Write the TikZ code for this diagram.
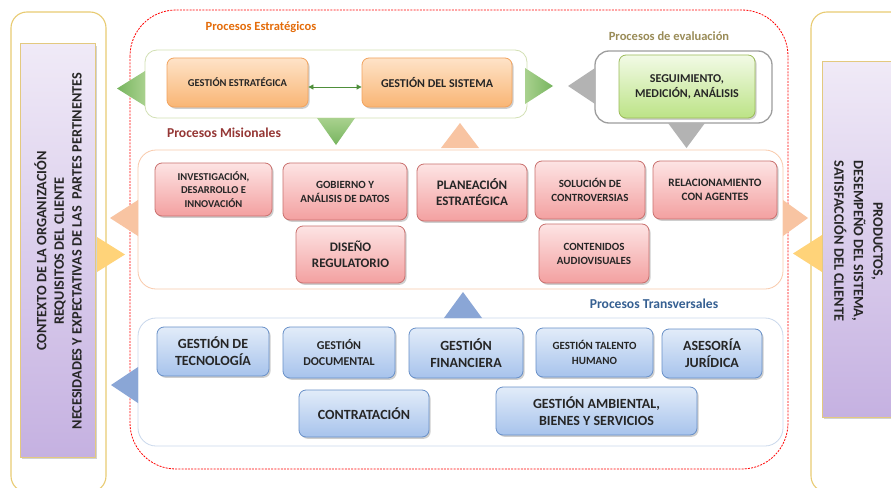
\documentclass[tikz,border=0pt]{standalone}
\usepackage{fontspec}
\setmainfont{Carlito}
\usetikzlibrary{shadows,arrows.meta}
\definecolor{txt}{HTML}{262626}
\definecolor{orgtop}{HTML}{FEE3C8}
\definecolor{orgbot}{HTML}{F9B574}
\definecolor{orgdraw}{HTML}{F2A35E}
\definecolor{grtop}{HTML}{F2FAE6}
\definecolor{grbot}{HTML}{BCE386}
\definecolor{grdraw}{HTML}{9BBB59}
\definecolor{mistop}{HTML}{FDE4E4}
\definecolor{misbot}{HTML}{F3A0A0}
\definecolor{misdraw}{HTML}{C9706E}
\definecolor{blutop}{HTML}{E2ECF9}
\definecolor{blubot}{HTML}{A7C3EC}
\definecolor{bludraw}{HTML}{6890C8}
\definecolor{ptop}{HTML}{F0EAF7}
\definecolor{pbot}{HTML}{C5B1E1}
\definecolor{pdraw}{HTML}{E3C97F}
\definecolor{outdraw}{HTML}{E8CB72}
\definecolor{lblorange}{HTML}{E46C0A}
\definecolor{lblolive}{HTML}{9A8C58}
\definecolor{lblred}{HTML}{953735}
\definecolor{lblblue}{HTML}{366092}
\definecolor{trigreenA}{HTML}{77B55F}
\definecolor{trigreenB}{HTML}{A9D18E}
\definecolor{tripeach}{HTML}{F8C4A2}
\definecolor{trigray}{HTML}{B3B3B3}
\definecolor{triyellow}{HTML}{FFD379}
\definecolor{triblue}{HTML}{8AA6D6}
\definecolor{arrgreen}{HTML}{4E8F3A}
\newcommand\fsz[2]{\fontsize{#1}{#2}\selectfont}
\begin{document}
\begin{tikzpicture}[x=1pt,y=-1pt,
  every node/.style={font=\bfseries, text=txt},
  boxshadow/.style={drop shadow={shadow xshift=1.6pt, shadow yshift=-1.8pt, opacity=0.35, fill=black!55}},
  pbox/.style={rounded corners=7pt, align=center, inner sep=2pt, line width=0.8pt, boxshadow},
  orgbox/.style={pbox, draw=orgdraw, top color=orgtop, bottom color=orgbot},
  grbox/.style={pbox, draw=grdraw, top color=grtop, bottom color=grbot},
  misbox/.style={pbox, draw=misdraw, top color=mistop, bottom color=misbot},
  blubox/.style={pbox, draw=bludraw, top color=blutop, bottom color=blubot},
  purplebox/.style={draw=pdraw, line width=1pt, top color=ptop, bottom color=pbot,
     drop shadow={shadow xshift=2pt, shadow yshift=-2pt, opacity=0.35, fill=black!50}},
  outerbox/.style={draw=outdraw, line width=1.1pt, rounded corners=16pt, fill=white},
  container/.style={rounded corners=16pt, fill=white, line width=0.8pt},
  lbl/.style={font=\bfseries\fsz{12.5}{15}},
  dblarrow/.style={draw=arrgreen, line width=0.8pt, {Triangle[length=5pt,width=5pt]}-{Triangle[length=5pt,width=5pt]}}
]
\useasboundingbox (0,0) rectangle (891,487);
\begin{scope}
\clip (0,0) rectangle (891,487);
\fill[white] (0,0) rectangle (891,487);

% outer side boxes
\node[outerbox, minimum width=95, minimum height=480] (leftout) at (58.5,252) {};
\node[outerbox, minimum width=100, minimum height=480] (rightout) at (861,252) {};
\node[purplebox, minimum width=75, minimum height=413] (leftin) at (57.5,250.5) {};
\node[purplebox, minimum width=82, minimum height=355] (rightin) at (863,239.5) {};
\node[rotate=90, align=center, font=\bfseries\fsz{14.3}{17.6}] (lefttxt) at (58,251)
  {CONTEXTO DE LA ORGANIZACIÓN\\REQUISITOS DEL CLIENTE\\NECESIDADES Y EXPECTATIVAS DE LAS\ \ PARTES PERTINENTES};
\node[rotate=-90, align=center, font=\bfseries\fsz{14.3}{19.5}] (righttxt) at (858.5,241)
  {PRODUCTOS,\\DESEMPEÑO DEL SISTEMA,\\SATISFACCIÓN DEL CLIENTE};

% red dashed boundary
\draw[red, line width=0.8pt, dash pattern=on 2pt off 1.2pt, rounded corners=46pt] (130,10) rectangle (788,469);

% containers
\node[container, draw=grdraw!45, minimum width=382, minimum height=68, rounded corners=12pt] (estc) at (336,84) {};
\node[container, draw=black!38, line width=1.3pt, minimum width=177, minimum height=72, rounded corners=14pt] (evalc) at (683.5,87) {};
\node[container, draw=tripeach!90, minimum width=645, minimum height=139, rounded corners=18pt] (misc) at (460.5,219.5) {};
\node[container, draw=bludraw!35, minimum width=645, minimum height=128, rounded corners=18pt] (trac) at (460.5,382) {};

% labels
\node[lbl, text=lblorange] (lblest) at (261,27) {Procesos Estratégicos};
\node[lbl, text=lblolive] (lbleval) at (669,36) {Procesos de evaluación};
\node[lbl, text=lblred, font=\bfseries\fsz{13.6}{16}] (lblmis) at (224,133) {Procesos Misionales};
\node[lbl, text=lblblue, font=\bfseries\fsz{13.6}{16}] (lbltra) at (654,304) {Procesos Transversales};

% triangles
\shade[left color=trigreenA, right color=trigreenB] (145,71) -- (145,106) -- (117,88.5) -- cycle;
\shade[left color=trigreenB, right color=trigreenA] (525,68) -- (525,104) -- (553,86) -- cycle;
\shade[top color=trigreenB, bottom color=trigreenA] (317,118) -- (355,118) -- (336,145) -- cycle;
\fill[tripeach] (441,148) -- (479,148) -- (460,123) -- cycle;
\fill[trigray] (595,68) -- (595,104) -- (568,86) -- cycle;
\fill[trigray] (668,123) -- (705,123) -- (686.5,148) -- cycle;
\fill[tripeach] (138,200) -- (138,236) -- (110,218) -- cycle;
\fill[tripeach] (783,200) -- (783,236) -- (808,218) -- cycle;
\fill[triyellow] (97,237) -- (97,272) -- (125,254.5) -- cycle;
\fill[triyellow] (822,235) -- (822,272) -- (793,253.5) -- cycle;
\fill[triblue] (444,318) -- (482,318) -- (463,292) -- cycle;
\fill[triblue] (138,367) -- (138,403) -- (111,385) -- cycle;

% strategic
\node[orgbox, minimum width=141, minimum height=49, font=\bfseries\fsz{10.5}{13}] (gest) at (237.5,82.5) {GESTIÓN ESTRATÉGICA};
\node[orgbox, minimum width=150, minimum height=49, font=\bfseries\fsz{12}{14}] (gsis) at (437,82.5) {GESTIÓN DEL SISTEMA};
\draw[dblarrow] ([yshift=-4.5pt]gest.east) -- ([yshift=-4.5pt]gsis.west);

% evaluation
\node[grbox, minimum width=136, minimum height=63, font=\bfseries\fsz{12}{15}] (seg) at (687,86.5) {SEGUIMIENTO,\\MEDICIÓN, ANÁLISIS};

% misionales
\node[misbox, minimum width=117, minimum height=53, font=\bfseries\fsz{10.5}{13.8}] (inv) at (213.5,189.5) {INVESTIGACIÓN,\\DESARROLLO E\\INNOVACIÓN};
\node[misbox, minimum width=124, minimum height=57, font=\bfseries\fsz{11}{14}] (gob) at (345,191.5) {GOBIERNO Y\\ANÁLISIS DE DATOS};
\node[misbox, minimum width=110, minimum height=57, font=\bfseries\fsz{13}{16}] (pla) at (472,192.5) {PLANEACIÓN\\ESTRATÉGICA};
\node[misbox, minimum width=110, minimum height=58, font=\bfseries\fsz{11}{14}] (sol) at (590,190) {SOLUCIÓN DE\\CONTROVERSIAS};
\node[misbox, minimum width=124, minimum height=58, font=\bfseries\fsz{11.3}{14}] (rel) at (715,190) {RELACIONAMIENTO\\CON AGENTES};
\node[misbox, minimum width=109, minimum height=57, font=\bfseries\fsz{13}{16}] (dis) at (350.5,254.5) {DISEÑO\\REGULATORIO};
\node[misbox, minimum width=110, minimum height=59, font=\bfseries\fsz{11}{14}] (aud) at (594,253.5) {CONTENIDOS\\AUDIOVISUALES};

% transversales
\node[blubox, minimum width=112, minimum height=49, font=\bfseries\fsz{14}{17}] (tec) at (213,351.5) {GESTIÓN DE\\TECNOLOGÍA};
\node[blubox, minimum width=112, minimum height=51, font=\bfseries\fsz{12}{15.5}] (doc) at (339,352.5) {GESTIÓN\\DOCUMENTAL};
\node[blubox, minimum width=114, minimum height=50, font=\bfseries\fsz{14}{17}] (fin) at (466,353) {GESTIÓN\\FINANCIERA};
\node[blubox, minimum width=117, minimum height=49, font=\bfseries\fsz{11}{15}] (tal) at (594.5,352.5) {GESTIÓN TALENTO\\HUMANO};
\node[blubox, minimum width=100, minimum height=49, font=\bfseries\fsz{14}{17}] (ase) at (712,353.5) {ASESORÍA\\JURÍDICA};
\node[blubox, minimum width=130, minimum height=47, font=\bfseries\fsz{14}{17}] (ctr) at (364,413.5) {CONTRATACIÓN};
\node[blubox, minimum width=201, minimum height=48, font=\bfseries\fsz{14}{17}] (amb) at (596.5,411) {GESTIÓN AMBIENTAL,\\BIENES Y SERVICIOS};
\end{scope}
\end{tikzpicture}
\end{document}
